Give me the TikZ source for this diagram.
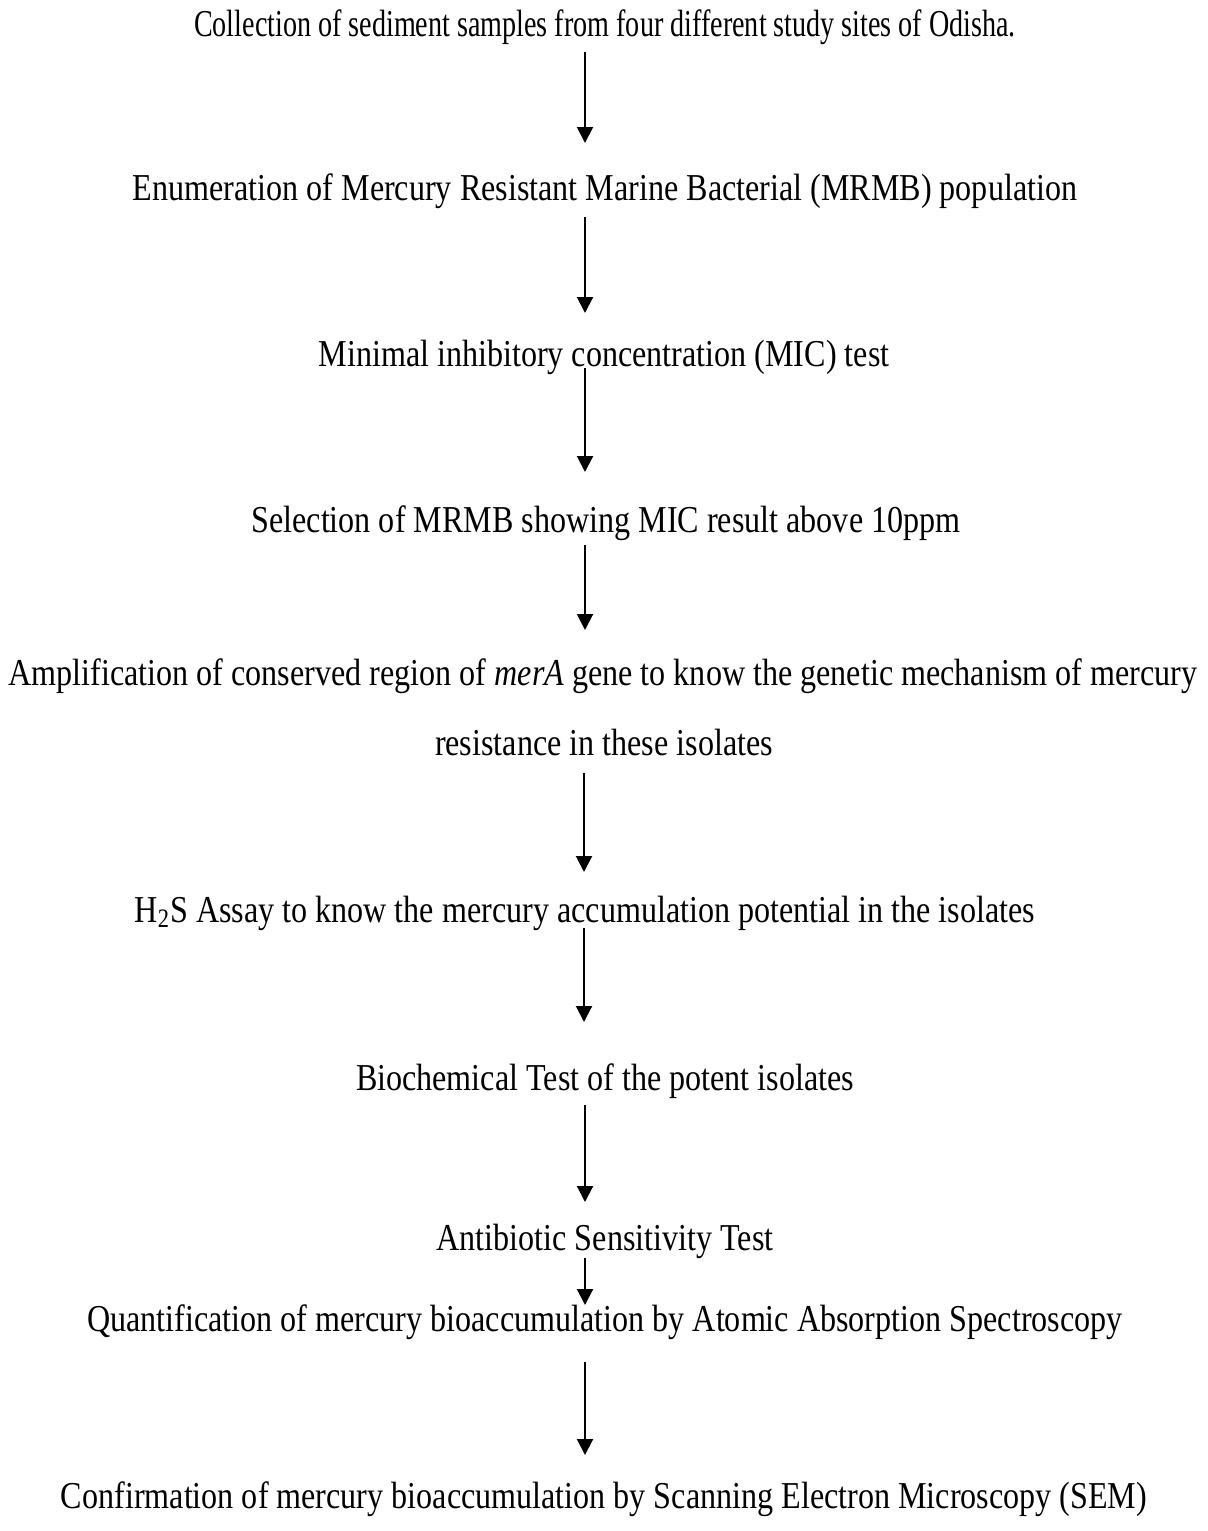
\documentclass[tikz,border=0pt]{standalone}
\usepackage{fontspec}
\setmainfont{Liberation Serif}[FakeStretch=0.845]
\newfontfamily\firstfont{Liberation Serif}[FakeStretch=0.74]
\usetikzlibrary{arrows.meta}
\tikzset{
  steptext/.style={anchor=base, inner sep=0pt, font=\fontsize{19}{23}\selectfont},
  flowarrow/.style={line width=1pt, -{Triangle[width=8pt,length=8pt]}}
}
\begin{document}
\begin{tikzpicture}[x=0.5pt,y=-0.5pt]
\useasboundingbox (0,0) rectangle (1208,1531);
\node[steptext] (n1) at (605,36) {\firstfont Collection of sediment samples from four different study sites of Odisha.};
\node[steptext] (n2) at (605,200) {Enumeration of Mercury Resistant Marine Bacterial (MRMB) population};
\node[steptext] (n3) at (604,366) {Minimal inhibitory concentration (MIC) test};
\node[steptext] (n4) at (606,532) {Selection of MRMB showing MIC result above 10ppm};
\node[steptext] (n5) at (603,685) {Amplification of conserved region of \textit{merA} gene to know the genetic mechanism of mercury};
\node[steptext] (n5b) at (604,755) {resistance in these isolates};
\node[steptext] (n6) at (585,922) {H\textsubscript{2}S Assay to know the mercury accumulation potential in the isolates};
\node[steptext] (n7) at (605,1090) {Biochemical Test of the potent isolates};
\node[steptext] (n8) at (605,1250) {Antibiotic Sensitivity Test};
\node[steptext] (n9) at (605,1331) {Quantification of mercury bioaccumulation by Atomic Absorption Spectroscopy};
\node[steptext] (n10) at (604,1508) {Confirmation of mercury bioaccumulation by Scanning Electron Microscopy (SEM)};
\coordinate (a1s) at (585,52);   \coordinate (a1e) at (585,143);
\coordinate (a2s) at (585,217);  \coordinate (a2e) at (585,313);
\coordinate (a3s) at (585,368);  \coordinate (a3e) at (585,472);
\coordinate (a4s) at (585,545);  \coordinate (a4e) at (585,630);
\coordinate (a5s) at (584,773);  \coordinate (a5e) at (584,872);
\coordinate (a6s) at (584,928);  \coordinate (a6e) at (584,1022);
\coordinate (a7s) at (585,1105); \coordinate (a7e) at (585,1202);
\coordinate (a8s) at (585,1258); \coordinate (a8e) at (585,1305);
\coordinate (a9s) at (585,1362); \coordinate (a9e) at (585,1455);
\foreach \i in {1,...,9} { \draw[flowarrow] (a\i s) -- (a\i e); }
\end{tikzpicture}
\end{document}
